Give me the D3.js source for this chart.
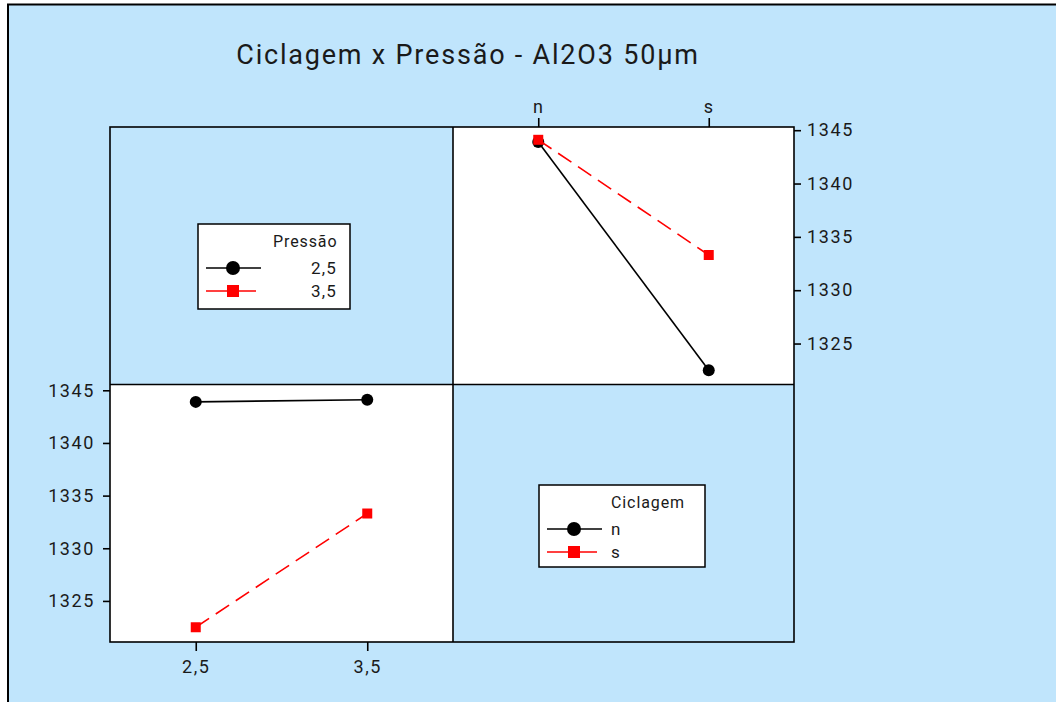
<!DOCTYPE html>
<html>
<head>
<meta charset="utf-8">
<script src="https://cdn.jsdelivr.net/npm/d3@7"></script>
<style>
  body { margin: 0; background: #fff; }
  svg text { font-family: Roboto, "Liberation Sans", sans-serif; fill: #1a1a1a; }
</style>
</head>
<body>
<svg id="chart"></svg>
<script>
// data: means of the response for each combination
const ciclagem = ["n", "s"];
const pressao = ["2,5", "3,5"];
const nValues = [1343.9, 1344.1];   // ciclagem n at pressao 2,5 / 3,5
const sValues = [1322.5, 1333.3];   // ciclagem s at pressao 2,5 / 3,5
const yTicks = [1325, 1330, 1335, 1340, 1345];

const w = 1056, h = 702;
const bg = "#C0E5FC";
const pLeft = 110, pRight = 794, pTop = 127, pBottom = 642;
const midX = 453, midY = 384.5;

const svg = d3.select("#chart").attr("width", w).attr("height", h);

// background + frame
svg.append("rect").attr("x", 8).attr("y", 4).attr("width", w - 8).attr("height", h - 4).attr("fill", bg);
svg.append("path").attr("d", `M8,${h} V4.5 H${w}`).attr("fill", "none").attr("stroke", "#000").attr("stroke-width", 2);

svg.append("text")
   .attr("x", 468).attr("y", 64)
   .attr("text-anchor", "middle")
   .style("font-size", "27px")
   .style("letter-spacing", "1.8px")
   .text("Ciclagem x Pressão - Al2O3 50µm");

// white panels
svg.append("rect").attr("x", midX).attr("y", pTop).attr("width", pRight - midX).attr("height", midY - pTop).attr("fill", "#fff");
svg.append("rect").attr("x", pLeft).attr("y", midY).attr("width", midX - pLeft).attr("height", pBottom - midY).attr("fill", "#fff");

//Scales (the two panels differ slightly, as in the original)
const yTop = d3.scaleLinear().domain([1321.16, 1345.3]).range([midY, pTop]);
const yBot = d3.scaleLinear().domain([1321.1, 1345.55]).range([pBottom, midY]);
const xTop = d3.scalePoint().domain(ciclagem).range([midX, pRight]).padding(0.5);
const xBot = d3.scalePoint().domain(pressao).range([pLeft, midX]).padding(0.5);

// top-right panel: x = ciclagem, series = pressao
const topSeries = [
  { name: "2,5", vals: [nValues[0], sValues[0]], color: "#000", dash: null, shape: "circle" },
  { name: "3,5", vals: [nValues[1], sValues[1]], color: "#ff0000", dash: "16,8", shape: "square" }
];
// bottom-left panel: x = pressao, series = ciclagem
const botSeries = [
  { name: "n", vals: nValues, color: "#000", dash: null, shape: "circle" },
  { name: "s", vals: sValues, color: "#ff0000", dash: "16,8", shape: "square" }
];

function drawMarker(g, shape, x, y, color, size) {
  if (shape === "circle") {
    g.append("circle").attr("cx", x).attr("cy", y).attr("r", size / 2 + 0.5).attr("fill", color);
  } else {
    g.append("rect").attr("x", x - size / 2).attr("y", y - size / 2).attr("width", size).attr("height", size).attr("fill", color);
  }
}

function drawSeries(series, xScale, yScale, cats) {
  const g = svg.append("g");
  // black first, red on top
  series.forEach(s => {
    const line = d3.line().x((d, i) => xScale(cats[i])).y(d => yScale(d));
    g.append("path").attr("d", line(s.vals))
     .attr("fill", "none").attr("stroke", s.color).attr("stroke-width", 1.6)
     .attr("stroke-dasharray", s.dash);
    s.vals.forEach((v, i) => drawMarker(g, s.shape, xScale(cats[i]), yScale(v), s.color, s.shape === "circle" ? 11 : 10));
  });
}
drawSeries(topSeries, xTop, yTop, ciclagem);
drawSeries(botSeries, xBot, yBot, pressao);

//Axes
function styleAxis(g) {
  g.attr("font-family", null).attr("font-size", null);
  g.select(".domain").remove();
  g.selectAll(".tick line").attr("stroke", "#000").attr("stroke-width", 1.6);
  g.selectAll(".tick text").style("font-size", "18px").style("letter-spacing", "1.6px").attr("fill", "#1a1a1a");
}
svg.append("g").attr("transform", `translate(0,${pTop})`)
   .call(d3.axisTop(xTop).tickSize(9).tickPadding(5)).call(styleAxis);
svg.append("g").attr("transform", `translate(${pRight},0)`)
   .call(d3.axisRight(yTop).tickValues(yTicks).tickFormat(d3.format("d")).tickSize(7).tickPadding(6)).call(styleAxis);
svg.append("g").attr("transform", `translate(0,${pBottom})`)
   .call(d3.axisBottom(xBot).tickSize(9).tickPadding(9)).call(styleAxis);
svg.append("g").attr("transform", `translate(${pLeft},0)`)
   .call(d3.axisLeft(yBot).tickValues(yTicks).tickFormat(d3.format("d")).tickSize(7).tickPadding(8)).call(styleAxis);

// grid frame
const frame = svg.append("g").attr("fill", "none").attr("stroke", "#000").attr("stroke-width", 1.6);
frame.append("rect").attr("x", pLeft).attr("y", pTop).attr("width", pRight - pLeft).attr("height", pBottom - pTop);
frame.append("line").attr("x1", midX).attr("x2", midX).attr("y1", pTop).attr("y2", pBottom);
frame.append("line").attr("x1", pLeft).attr("x2", pRight).attr("y1", midY).attr("y2", midY);

//Legends
function drawLegend(x, y, bw, bh, title, titleX, labelX, anchor, series) {
  const g = svg.append("g").attr("transform", `translate(${x},${y})`);
  g.append("rect").attr("width", bw).attr("height", bh).attr("fill", "#fff").attr("stroke", "#000").attr("stroke-width", 1.5);
  g.append("text").attr("x", titleX).attr("y", 23).style("font-size", "16px").style("letter-spacing", "0.9px").text(title);
  series.forEach((s, i) => {
    const ly = 44 + i * 23;
    g.append("line").attr("x1", 8).attr("x2", s.shape === "circle" ? 63 : 58).attr("y1", ly).attr("y2", ly)
     .attr("stroke", s.color).attr("stroke-width", 1.6);
    drawMarker(g, s.shape, 35, ly, s.color, s.shape === "circle" ? 13 : 12);
    g.append("text").attr("x", labelX).attr("y", ly + 6).attr("text-anchor", anchor)
     .style("font-size", "17px").style("letter-spacing", "1.2px").text(s.name);
  });
}
drawLegend(198, 224, 152, 85, "Pressão", 75, 139, "end", topSeries);
drawLegend(539, 485, 166, 82, "Ciclagem", 72, 72, "start", botSeries);
</script>
</body>
</html>
